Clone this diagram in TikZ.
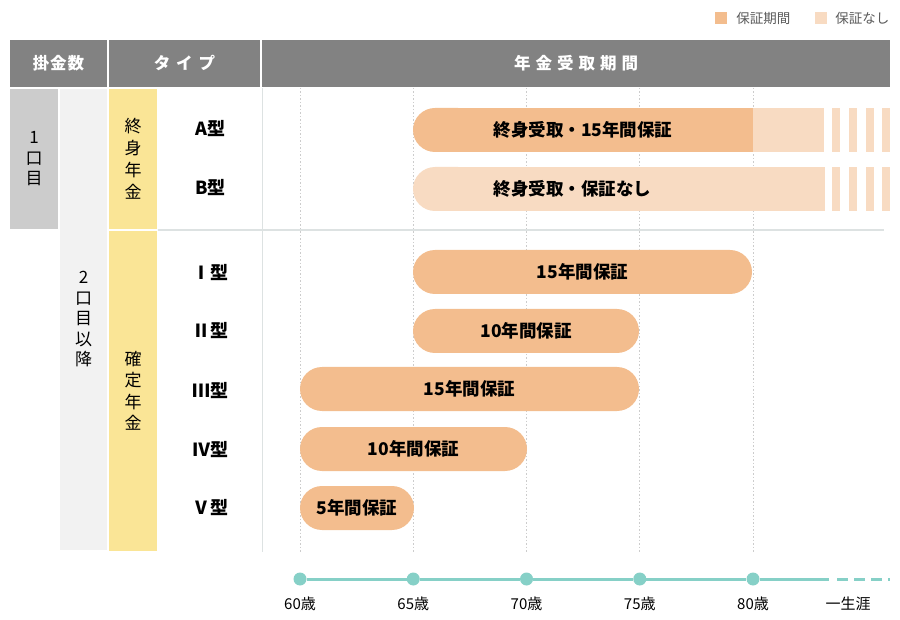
\documentclass[tikz,border=0pt]{standalone}
\usepackage{fontspec}
\setmainfont{Noto Sans CJK JP}
\usetikzlibrary{positioning}

\definecolor{headgray}{HTML}{828282}
\definecolor{firstgray}{HTML}{CCCCCC}
\definecolor{restgray}{HTML}{F2F2F2}
\definecolor{kindyellow}{HTML}{FAE596}
\definecolor{guardorange}{HTML}{F3BD8E}
\definecolor{plainorange}{HTML}{F8DBC2}
\definecolor{ageteal}{HTML}{86D0C7}
\definecolor{rulegray}{HTML}{DDE2E2}
\definecolor{keygray}{HTML}{595959}

\tikzset{
  headbox/.style={fill=headgray,text=white,minimum height=47pt,inner sep=0pt,
    font=\bfseries\fontsize{16.5}{16.5}\selectfont},
  sidebox/.style={inner sep=0pt,align=center,font=\fontsize{17}{20.5}\selectfont},
  typetext/.style={anchor=east,inner sep=0pt,font=\bfseries\fontsize{18}{18}\selectfont},
  bar/.style={fill=guardorange,rounded corners=22pt,minimum height=44pt,inner sep=0pt,
    font=\bfseries\fontsize{17.5}{17.5}\selectfont},
  bartext/.style={inner sep=0pt,font=\bfseries\fontsize{17.5}{17.5}\selectfont},
  agedot/.style={circle,fill=ageteal,minimum size=13pt,inner sep=0pt},
  agetext/.style={inner sep=0pt,font=\fontsize{15}{15}\selectfont},
  keytext/.style={inner sep=0pt,text=keygray,font=\fontsize{13.5}{13.5}\selectfont},
}

\begin{document}
\begin{tikzpicture}[x=1pt,y=-1pt]
  \useasboundingbox (0,0) rectangle (900,620);

  % legend
  \node[fill=guardorange,minimum size=12pt,inner sep=0pt] (keyguard) at (721,18) {};
  \node[keytext,right=9pt of keyguard] (keyguardtext) {保証期間};
  \node[fill=plainorange,minimum size=12pt,inner sep=0pt] (keyplain) at (821,18) {};
  \node[keytext,right=8pt of keyplain] (keyplaintext) {保証なし};

  % header row
  \node[headbox,minimum width=97pt] (kakekin) at (58.5,63.5) {掛\hspace{1pt}金\hspace{1pt}数};
  \node[headbox,minimum width=151pt] (taipu) at (184.5,63.5)
    {タ\hspace{6pt}イ\hspace{6pt}プ};
  \node[headbox,minimum width=628pt] (kikan) at (576,63.5)
    {年\hspace{5pt}金\hspace{5pt}受\hspace{5pt}取\hspace{5pt}期\hspace{5pt}間};

  % left columns
  \node[sidebox,fill=firstgray,minimum width=48pt,minimum height=140pt] (first) at (34,159) {1\\口\\目};
  \node[sidebox,fill=restgray,minimum width=47pt,minimum height=461pt] (rest) at (83.5,319.5)
    {2\\口\\目\\以\\降};
  \node[sidebox,fill=kindyellow,minimum width=48pt,minimum height=140pt,
    font=\fontsize{17}{22}\selectfont] (lifelong) at (133,159) {終\\身\\年\\金};
  \node[sidebox,fill=kindyellow,minimum width=48pt,minimum height=320pt,
    font=\fontsize{17}{21.5}\selectfont] (fixed) at (133,391) {確\\定\\年\\金};

  % rules and the dotted age grid
  \draw[rulegray,line width=1.5pt] (158,230) -- (884,230);
  \draw[rulegray,line width=1pt] (262,88) -- (262,552);
  \foreach \a in {0,...,4}{% one dotted line per age step
    \draw[firstgray,line width=0.6pt,dash pattern=on 1.5pt off 2pt]
      ({300+113.25*\a},88) -- ({300+113.25*\a},552);
  }

  % types
  \node[typetext] (typea) at (226,129) {A型};
  \node[typetext] (typeb) at (226,188) {B型};
  \node[typetext] (typei) at (229,273) {Ⅰ型};
  \node[typetext] (typeii) at (229,331) {Ⅱ型};
  \node[typetext] (typeiii) at (229,391) {Ⅲ型};
  \node[typetext] (typeiv) at (229,450) {Ⅳ型};
  \node[typetext] (typev) at (229,508) {Ⅴ型};

  % lifelong bars, cut off on the right
  \fill[guardorange,rounded corners=22pt] (413,108) rectangle (480,152);
  \fill[guardorange] (440,108) rectangle (753,152);
  \fill[plainorange] (753,108) rectangle (824,152);
  \fill[plainorange,rounded corners=22pt] (413,167) rectangle (480,211);
  \fill[plainorange] (440,167) rectangle (825,211);
  \foreach \x in {832,849,866,882}{% the broken tail
    \fill[plainorange] (\x,108) rectangle (\x+8,152);
    \fill[plainorange] (\x,167) rectangle (\x+8,211);
  }
  \node[bartext] (bara) at (583,130) {終身受取・15年間保証};
  \node[bartext,anchor=west] (barb) at (bara.west |- 0,189) {終身受取・保証なし};

  % fixed bars
  \node[bar,minimum width=339pt] (bari) at (582.5,272) {15年間保証};
  \node[bar,minimum width=226pt] (barii) at (526,331) {10年間保証};
  \node[bar,minimum width=339pt] (bariii) at (469.5,389) {15年間保証};
  \node[bar,minimum width=227pt] (bariv) at (413.5,449) {10年間保証};
  \node[bar,minimum width=114pt] (barv) at (357,508) {5年間保証};

  % age line
  \foreach \a/\t in {0/60,1/65,2/70,3/75,4/80}{%
    \node[agedot] (t\t) at ({300+113.25*\a},579) {};
    \node[agetext,below=11pt of t\t] (l\t) {\t 歳};
  }
  \coordinate (lifeend) at (829,579);
  \coordinate (dashstart) at (837,579);
  \coordinate (lifeedge) at (890,579);
  \draw[ageteal,line width=3pt] (t60) -- (t65);
  \draw[ageteal,line width=3pt] (t65) -- (t70);
  \draw[ageteal,line width=3pt] (t70) -- (t75);
  \draw[ageteal,line width=3pt] (t75) -- (t80);
  \draw[ageteal,line width=3pt] (t80) -- (lifeend);
  \draw[ageteal,line width=3pt,dash pattern=on 11pt off 6pt] (dashstart) -- (lifeedge);
  \node[agetext,anchor=north] (lifelabel) at (848,0 |- l60.north) {一生涯};
\end{tikzpicture}
\end{document}
